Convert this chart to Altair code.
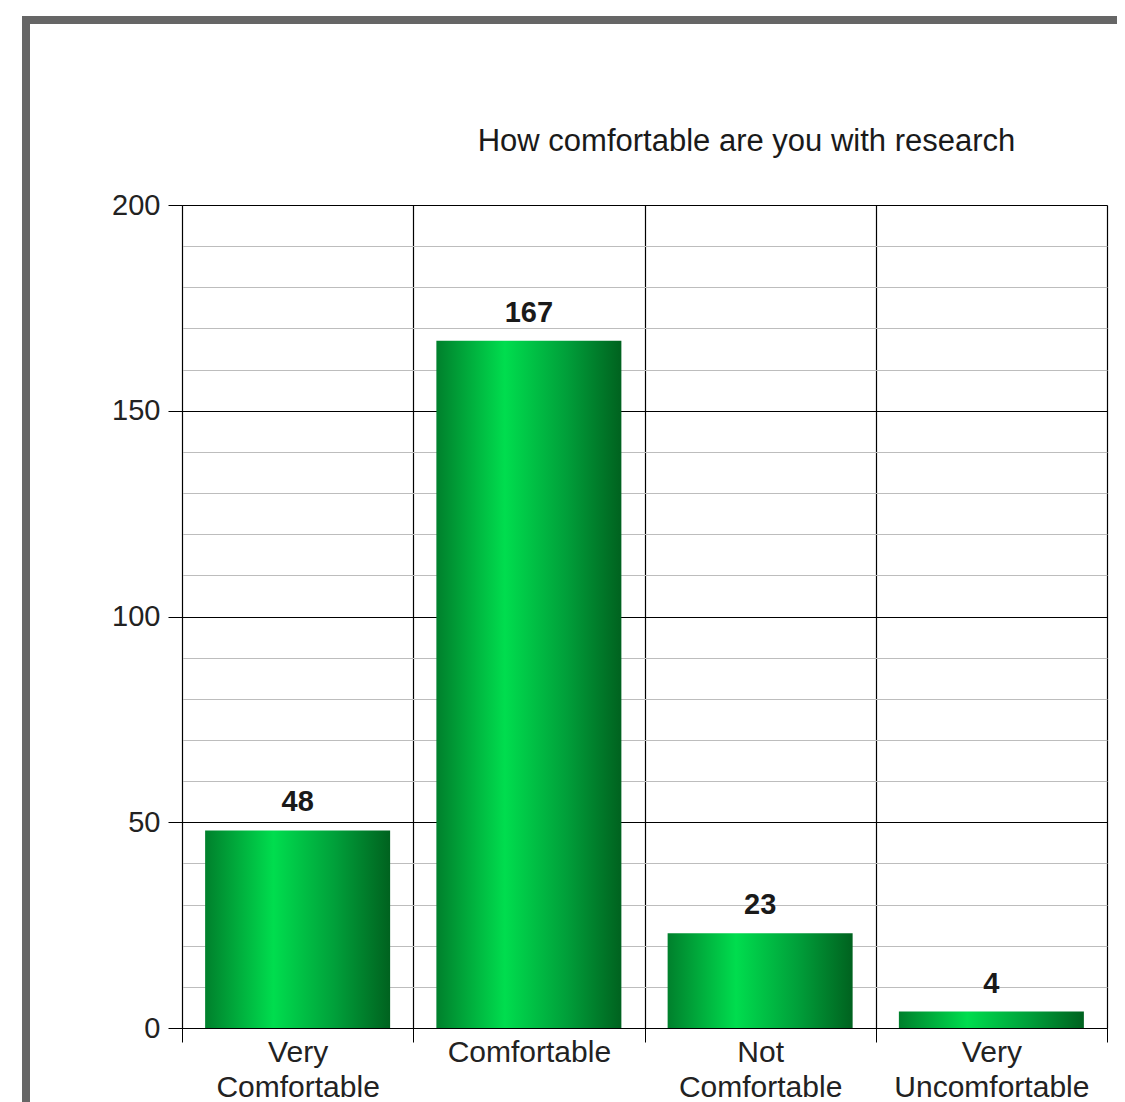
import altair as alt
import pandas as pd

categories = ["Very Comfortable", "Comfortable", "Not Comfortable", "Very Uncomfortable"]
counts = [48, 167, 23, 4]
y_ticks = list(range(0, 201, 10))
title_text = "How comfortable are you with research"

df = pd.DataFrame({"category": categories, "count": counts})

FONT = "Liberation Sans"

gradient = alt.Gradient(
    gradient="linear",
    stops=[
        alt.GradientStop(color="#00802c", offset=0),
        alt.GradientStop(color="#00dd4e", offset=0.37),
        alt.GradientStop(color="#00a03a", offset=0.7),
        alt.GradientStop(color="#00621f", offset=1),
    ],
    x1=0, x2=1, y1=0, y2=0,
)

x_enc = alt.X(
    "category:N",
    sort=categories,
    title=None,
    scale=alt.Scale(paddingInner=0, paddingOuter=0),
    axis=alt.Axis(
        labelAngle=0,
        labelFont=FONT,
        labelFontSize=30,
        labelColor="#222222",
        labelExpr="split(datum.label, ' ')",
        labelLineHeight=35,
        labelPadding=-5,
        labelLimit=400,
        tickBand="extent",
        tickSize=14,
        tickColor="black",
        domainColor="black",
        grid=True,
        gridColor="black",
        gridWidth=1.2,
    ),
)

y_enc = alt.Y(
    "count:Q",
    title=None,
    scale=alt.Scale(domain=[0, 200], nice=False),
    axis=alt.Axis(
        values=y_ticks,
        labelExpr="datum.value % 50 === 0 ? datum.label : ''",
        labelFont=FONT,
        labelFontSize=29,
        labelColor="#222222",
        labelPadding=8,
        tickSize=14,
        tickColor=alt.condition("datum.value % 50 === 0", alt.value("black"), alt.value("transparent")),
        domainColor="black",
        grid=True,
        gridColor=alt.condition("datum.value % 50 === 0", alt.value("black"), alt.value("#bdbdbd")),
        gridWidth=alt.condition("datum.value % 50 === 0", alt.value(1.2), alt.value(1)),
    ),
)

bars = alt.Chart(df).mark_bar(color=gradient, width=alt.RelativeBandSize(0.8)).encode(x=x_enc, y=y_enc)

labels = alt.Chart(df).mark_text(
    font=FONT, fontSize=29, fontWeight="bold", color="#1a1a1a",
    baseline="alphabetic", dy=-19,
).encode(x=alt.X("category:N", sort=categories), y="count:Q", text="count:Q")

frame_data = alt.Data(values=[{}])
frame_top = alt.Chart(frame_data).mark_rule(color="#666666", strokeWidth=8).encode(
    x=alt.value(-160), x2=alt.value(960), y=alt.value(-185)
)
frame_left = alt.Chart(frame_data).mark_rule(color="#666666", strokeWidth=8).encode(
    x=alt.value(-156), y=alt.value(-189), y2=alt.value(920)
)

chart = alt.layer(bars, labels, frame_top, frame_left).properties(
    width=925,
    height=823,
    autosize=alt.AutoSizeParams(type="none"),
    padding={"left": 174, "top": 197, "right": 10, "bottom": 80},
    title=alt.TitleParams(
        title_text, font=FONT, fontSize=31, fontWeight="normal", color="#1a1a1a",
        anchor="middle", dx=102, offset=0, dy=170, baseline="alphabetic",
    ),
).configure_view(stroke="black", strokeWidth=1.2).configure(background="white")

chart.save("out.html", embed_options={"renderer": "svg", "actions": False})
